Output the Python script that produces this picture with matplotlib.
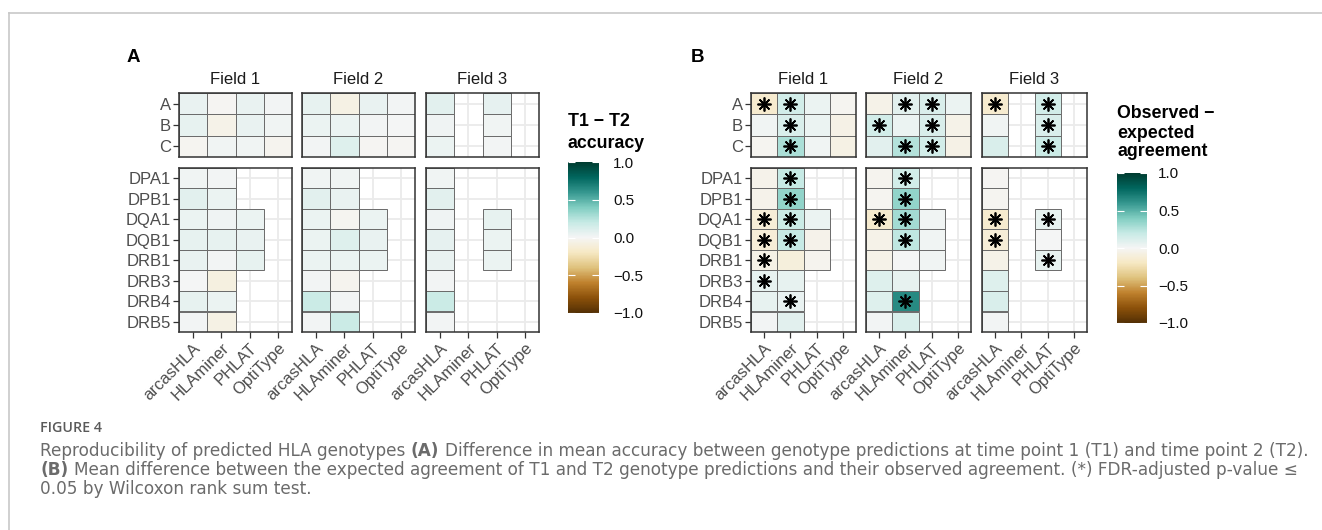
import numpy as np
import matplotlib
matplotlib.use("Agg")
import matplotlib.pyplot as plt
from matplotlib.patches import Rectangle
from matplotlib.lines import Line2D
from matplotlib.colors import Normalize
from matplotlib.cm import ScalarMappable

nan = np.nan

# ---------------- data ----------------
tools = ["arcasHLA", "HLAminer", "PHLAT", "OptiType"]
class_I = ["A", "B", "C"]
class_II = ["DPA1", "DPB1", "DQA1", "DQB1", "DRB1", "DRB3", "DRB4", "DRB5"]
fields = ["Field 1", "Field 2", "Field 3"]
cbar_ticks = [-1.0, -0.5, 0.0, 0.5, 1.0]

# Panel A: T1 - T2 accuracy (rows = genes, cols = tools)
accA_f1_I = [[0.05, -0.01, 0.05, 0.01],
             [0.06, -0.05, 0.05, 0.02],
             [-0.02, 0.02, 0.02, -0.03]]
accA_f2_I = [[0.06, -0.07, 0.05, 0.01],
             [0.04, 0.04, 0.01, 0.00],
             [0.01, 0.10, -0.01, -0.01]]
accA_f3_I = [[0.08, nan, 0.07, nan],
             [0.03, nan, 0.02, nan],
             [0.04, nan, 0.01, nan]]
accA_f1_II = [[0.02, 0.01, nan, nan],
              [0.08, 0.04, nan, nan],
              [0.04, 0.03, 0.04, nan],
              [0.06, 0.06, 0.05, nan],
              [0.05, 0.01, 0.06, nan],
              [0.00, -0.08, nan, nan],
              [0.06, 0.04, nan, nan],
              [0.01, -0.07, nan, nan]]
accA_f2_II = [[0.02, 0.02, nan, nan],
              [0.08, 0.05, nan, nan],
              [0.04, -0.02, 0.04, nan],
              [0.04, 0.10, 0.05, nan],
              [0.04, 0.04, 0.04, nan],
              [0.01, -0.03, nan, nan],
              [0.18, 0.01, nan, nan],
              [0.01, 0.18, nan, nan]]
accA_f3_II = [[0.02, nan, nan, nan],
              [0.08, nan, nan, nan],
              [0.03, nan, 0.06, nan],
              [0.07, nan, 0.04, nan],
              [0.05, nan, 0.04, nan],
              [0.01, nan, nan, nan],
              [0.18, nan, nan, nan],
              [0.01, nan, nan, nan]]

# Panel B: observed - expected agreement
agrB_f1_I = [[-0.15, 0.15, 0.04, -0.02],
             [0.02, 0.12, 0.04, -0.06],
             [-0.02, 0.28, 0.02, -0.07]]
agrB_f2_I = [[-0.05, 0.08, 0.12, 0.04],
             [0.15, 0.04, 0.12, -0.05],
             [0.08, 0.25, 0.15, -0.06]]
agrB_f3_I = [[-0.15, nan, 0.15, nan],
             [0.02, nan, 0.12, nan],
             [0.12, nan, 0.18, nan]]
agrB_f1_II = [[-0.04, 0.20, nan, nan],
              [-0.04, 0.35, nan, nan],
              [-0.12, 0.18, 0.04, nan],
              [-0.12, 0.20, -0.04, nan],
              [-0.06, -0.10, -0.03, nan],
              [0.06, 0.06, nan, nan],
              [0.06, 0.05, nan, nan],
              [0.01, 0.08, nan, nan]]
agrB_f2_II = [[-0.03, 0.15, nan, nan],
              [-0.02, 0.35, nan, nan],
              [-0.15, 0.30, 0.02, nan],
              [-0.05, 0.22, 0.02, nan],
              [-0.05, 0.00, 0.02, nan],
              [0.10, 0.06, nan, nan],
              [0.10, 0.65, nan, nan],
              [0.01, 0.12, nan, nan]]
agrB_f3_II = [[-0.01, nan, nan, nan],
              [-0.02, nan, nan, nan],
              [-0.15, nan, 0.06, nan],
              [-0.12, nan, 0.00, nan],
              [-0.05, nan, 0.06, nan],
              [0.10, nan, nan, nan],
              [0.12, nan, nan, nan],
              [0.01, nan, nan, nan]]

# significance (FDR <= 0.05)
sigB_f1_I = [[1, 1, 0, 0], [0, 1, 0, 0], [0, 1, 0, 0]]
sigB_f2_I = [[0, 1, 1, 0], [1, 0, 1, 0], [0, 1, 1, 0]]
sigB_f3_I = [[1, 0, 1, 0], [0, 0, 1, 0], [0, 0, 1, 0]]
sigB_f1_II = [[0, 1, 0, 0], [0, 1, 0, 0], [1, 1, 0, 0], [1, 1, 0, 0],
              [1, 0, 0, 0], [1, 0, 0, 0], [0, 1, 0, 0], [0, 0, 0, 0]]
sigB_f2_II = [[0, 1, 0, 0], [0, 1, 0, 0], [1, 1, 0, 0], [0, 1, 0, 0],
              [0, 0, 0, 0], [0, 0, 0, 0], [0, 1, 0, 0], [0, 0, 0, 0]]
sigB_f3_II = [[0, 0, 0, 0], [0, 0, 0, 0], [1, 0, 1, 0], [1, 0, 0, 0],
              [0, 0, 1, 0], [0, 0, 0, 0], [0, 0, 0, 0], [0, 0, 0, 0]]

# ---------------- figure ----------------
W, H = 1322, 530
DPI = 100
fig = plt.figure(figsize=(W / DPI, H / DPI), dpi=DPI)
fig.patch.set_facecolor("white")

FONT = "Liberation Sans"
cmap = plt.get_cmap("BrBG")
norm = Normalize(vmin=-1, vmax=1)


def px_axes(x0, ytop, w, h):
    return fig.add_axes([x0 / W, 1 - (ytop + h) / H, w / W, h / H])


def draw_facet(ax, vals, rows, sig=None, show_y=False, show_x=False):
    vals = np.asarray(vals, dtype=float)
    n = len(rows)
    ax.set_xlim(-0.5, len(tools) - 0.5)
    ax.set_ylim(n - 0.5, -0.5)
    ax.set_facecolor("white")
    ax.set_axisbelow(True)
    ax.set_xticks(range(len(tools)))
    ax.set_yticks(range(n))
    ax.grid(True, color="#ebebeb", lw=1.3, zorder=0)
    for i in range(n):
        for j in range(len(tools)):
            v = vals[i, j]
            if np.isnan(v):
                continue
            ax.add_patch(Rectangle((j - 0.5, i - 0.5), 1, 1,
                                   facecolor=cmap(norm(v)),
                                   edgecolor="#6a6a6a", lw=0.7, zorder=2))
            if sig is not None and sig[i][j]:
                ax.plot(j, i, marker=(8, 2, 0), ms=10, mec="black",
                        mew=1.25, ls="none", zorder=3)
    for s in ax.spines.values():
        s.set_color("#333333")
        s.set_linewidth(1.1)
        s.set_zorder(4)
    ax.tick_params(axis="both", length=4, width=0.9, color="#333333",
                   labelsize=12, labelcolor="#4d4d4d", pad=2)
    if show_y:
        ax.set_yticklabels(rows, fontfamily=FONT)
    else:
        ax.tick_params(axis="y", left=False, labelleft=False)
    if show_x:
        ax.set_xticklabels(tools, rotation=45, ha="right", va="top",
                           rotation_mode="anchor", fontfamily=FONT)
    else:
        ax.tick_params(axis="x", bottom=False, labelbottom=False)


def draw_panel(x0s, width, data_I, data_II, sig_I=None, sig_II=None):
    for k, x0 in enumerate(x0s):
        a1 = px_axes(x0, 93, width, 64)
        draw_facet(a1, data_I[k], class_I,
                   None if sig_I is None else sig_I[k], show_y=(k == 0))
        a2 = px_axes(x0, 168, width, 164)
        draw_facet(a2, data_II[k], class_II,
                   None if sig_II is None else sig_II[k], show_y=(k == 0),
                   show_x=True)
        fig.text((x0 + width / 2) / W, 1 - 80 / H, fields[k], ha="center",
                 va="center", fontsize=12, color="#1a1a1a", fontfamily=FONT)


def draw_cbar(x0, ytop, w, h, title_lines, title_ys, label_x):
    cax = px_axes(x0, ytop, w, h)
    cb = fig.colorbar(ScalarMappable(norm=norm, cmap=cmap), cax=cax,
                      ticks=cbar_ticks)
    cb.outline.set_visible(False)
    cax.set_yticklabels(["%.1f" % t if t >= 0 else "\u2212%.1f" % abs(t)
                         for t in cbar_ticks], fontfamily=FONT)
    cax.tick_params(axis="y", direction="in", color="white", length=5,
                    width=0.8, left=True, right=True, labelsize=11,
                    labelcolor="#111111", pad=label_x - (x0 + w))
    for line, y in zip(title_lines, title_ys):
        fig.text(x0 / W, 1 - y / H, line, ha="left", va="center",
                 fontsize=12.8, fontweight="bold", color="black",
                 fontfamily=FONT)


# Panel A
draw_panel([179, 302, 426], 113,
           [accA_f1_I, accA_f2_I, accA_f3_I],
           [accA_f1_II, accA_f2_II, accA_f3_II])
draw_cbar(568, 162, 31, 151, ["T1 \u2212 T2", "accuracy"], [121, 144], 609)
fig.text(133 / W, 1 - 57 / H, "A", ha="center", va="center", fontsize=13.5,
         fontweight="bold", fontfamily=FONT)

# Panel B
draw_panel([751, 866, 982], 105,
           [agrB_f1_I, agrB_f2_I, agrB_f3_I],
           [agrB_f1_II, agrB_f2_II, agrB_f3_II],
           [sigB_f1_I, sigB_f2_I, sigB_f3_I],
           [sigB_f1_II, sigB_f2_II, sigB_f3_II])
draw_cbar(1117, 173, 30, 150, ["Observed \u2212", "expected", "agreement"],
          [114, 133, 152], 1155)
fig.text(697 / W, 1 - 57 / H, "B", ha="center", va="center", fontsize=13.5,
         fontweight="bold", fontfamily=FONT)

# frame lines
fig.add_artist(Line2D([9 / W, 1], [1 - 12.5 / H, 1 - 12.5 / H],
                      transform=fig.transFigure, color="#c8c8c8", lw=1.2))
fig.add_artist(Line2D([9 / W, 9 / W], [0, 1 - 12.5 / H],
                      transform=fig.transFigure, color="#c8c8c8", lw=1.2))

# caption
CAP = "DejaVu Sans"
cap_col = "#6b6b6b"
fig.text(40 / W, 1 - 428 / H, "FIGURE 4", ha="left", va="center",
         fontsize=10.3, fontweight="semibold", color="#5a5a5a",
         fontfamily="Open Sans")

renderer = fig.canvas.get_renderer()

line1 = [("Reproducibility of predicted HLA genotypes", False),
         ("(A)", True),
         ("Difference in mean accuracy between genotype predictions at "
          "time point 1 (T1) and time point 2 (T2).", False)]
line2 = [("(B)", True),
         ("Mean difference between the expected agreement of T1 and T2 "
          "genotype predictions and their observed agreement. (*) "
          "FDR-adjusted p-value \u2264", False)]
line3 = [("0.05 by Wilcoxon rank sum test.", False)]


def text_w(s, bold, fs):
    t = fig.text(0, 0, s, fontsize=fs, fontfamily=CAP,
                 fontweight="bold" if bold else "normal")
    w = t.get_window_extent(renderer=renderer).width
    t.remove()
    return w


def line_w(segs, fs):
    sp = text_w("a a", False, fs) - text_w("aa", False, fs)
    return sum(text_w(s, b, fs) for s, b in segs) + sp * (len(segs) - 1)


base_fs = 10.0
cap_fs = base_fs * (1316 - 40) / line_w(line1, base_fs)
space_w = text_w("a a", False, cap_fs) - text_w("aa", False, cap_fs)


def rich_line(y_px, segs):
    x = 40.0
    for s, bold in segs:
        t = fig.text(x / W, 1 - y_px / H, s, ha="left", va="center",
                     fontsize=cap_fs, fontfamily=CAP, color=cap_col,
                     fontweight="bold" if bold else "normal")
        x += t.get_window_extent(renderer=renderer).width + space_w


rich_line(451, line1)
rich_line(470, line2)
rich_line(488.5, line3)

fig.savefig("out.png", dpi=DPI, facecolor="white")
